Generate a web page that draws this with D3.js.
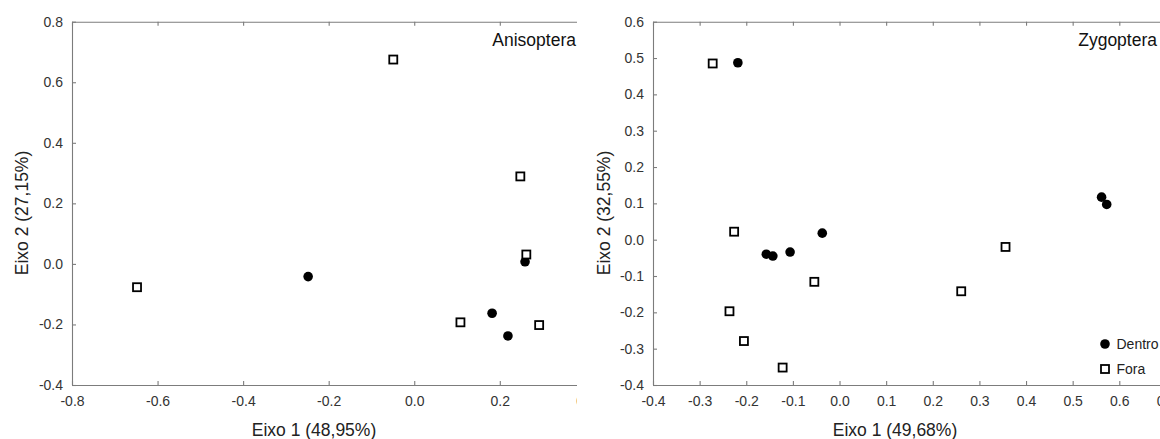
<!DOCTYPE html>
<html>
<head>
<meta charset="utf-8">
<script src="https://cdn.jsdelivr.net/npm/d3@7"></script>
<style>
  html, body { margin: 0; padding: 0; background: #fff; }
  svg { display: block; }
  text { font-family: "Liberation Sans", Arial, sans-serif; }
</style>
</head>
<body>
<svg id="chart" width="1160" height="439"></svg>
<script>
// ---------- data ----------
const anisXTicks = [-0.8, -0.6, -0.4, -0.2, 0.0, 0.2, 0.4];
const anisYTicks = [-0.4, -0.2, 0.0, 0.2, 0.4, 0.6, 0.8];
const anisDentroX = [-0.248, 0.259, 0.182, 0.219];
const anisDentroY = [-0.042, 0.007, -0.163, -0.238];
const anisForaX = [-0.049, 0.248, -0.648, 0.262, 0.108, 0.292];
const anisForaY = [0.675, 0.289, -0.077, 0.031, -0.193, -0.202];

const zygXTicks = [-0.4, -0.3, -0.2, -0.1, 0.0, 0.1, 0.2, 0.3, 0.4, 0.5, 0.6, 0.7];
const zygYTicks = [-0.4, -0.3, -0.2, -0.1, 0.0, 0.1, 0.2, 0.3, 0.4, 0.5, 0.6];
const zygDentroX = [-0.218, 0.562, 0.573, -0.037, -0.157, -0.143, -0.106];
const zygDentroY = [0.487, 0.117, 0.097, 0.018, -0.040, -0.045, -0.034];
const zygForaX = [-0.272, -0.226, -0.054, 0.261, 0.356, -0.236, -0.205, -0.122];
const zygForaY = [0.485, 0.022, -0.116, -0.142, -0.020, -0.197, -0.279, -0.352];

const legendLabels = ["Dentro", "Fora"];

// ---------- drawing ----------
const svg = d3.select("#chart");
const fmt = v => v.toFixed(1);
const lineColor = "#7c7c7c";
const textColor = "#333";

function panel(cfg) {
  const clipId = "clip-" + cfg.name;
  svg.append("clipPath").attr("id", clipId)
    .append("rect").attr("x", cfg.clipX0).attr("y", 0)
    .attr("width", cfg.clipX1 - cfg.clipX0).attr("height", 439);

  const g = svg.append("g").attr("clip-path", `url(#${clipId})`);

  const x = d3.scaleLinear().domain(cfg.xDomain).range(cfg.xRange);
  const y = d3.scaleLinear().domain(cfg.yDomain).range([385, 21.7]);

  const styleAxis = sel => {
    sel.select(".domain").attr("stroke", lineColor).attr("stroke-width", 1.1);
    sel.selectAll(".tick line").attr("stroke", lineColor).attr("stroke-width", 1.1);
    sel.selectAll(".tick text").attr("fill", textColor)
      .style("font-size", "14px").attr("font-family", "Liberation Sans, Arial, sans-serif");
  };

  // bottom axis
  g.append("g").attr("transform", "translate(0,385)")
    .call(d3.axisBottom(x).tickValues(cfg.xTicks).tickFormat(fmt)
      .tickSizeInner(-4).tickSizeOuter(0).tickPadding(11.5))
    .call(styleAxis);
  // top axis (no labels)
  g.append("g").attr("transform", "translate(0,21.7)")
    .call(d3.axisTop(x).tickValues(cfg.xTicks).tickFormat("")
      .tickSizeInner(-4).tickSizeOuter(0))
    .call(styleAxis);
  // left axis
  g.append("g").attr("transform", `translate(${cfg.xRange[0]},0)`)
    .call(d3.axisLeft(y).tickValues(cfg.yTicks).tickFormat(fmt)
      .tickSizeInner(-4).tickSizeOuter(0).tickPadding(9))
    .call(styleAxis);

  // points: circles (Dentro) then squares (Fora)
  const dentro = cfg.dentroX.map((v, i) => [v, cfg.dentroY[i]]);
  const fora = cfg.foraX.map((v, i) => [v, cfg.foraY[i]]);

  g.append("g").selectAll("circle").data(dentro).join("circle")
    .attr("cx", d => x(d[0])).attr("cy", d => y(d[1]))
    .attr("r", 4.8).attr("fill", "#000");

  const s = 8;
  g.append("g").selectAll("rect").data(fora).join("rect")
    .attr("x", d => x(d[0]) - s / 2).attr("y", d => y(d[1]) - s / 2)
    .attr("width", s).attr("height", s)
    .attr("fill", "#fff").attr("stroke", "#000").attr("stroke-width", 1.8);

  // panel title
  g.append("text").attr("x", cfg.titleX).attr("y", 46)
    .attr("text-anchor", "end").attr("fill", "#111")
    .style("font-size", "17.5px").text(cfg.title);

  // axis titles
  svg.append("text").attr("x", cfg.xTitleX).attr("y", 436)
    .attr("text-anchor", "middle").attr("fill", "#222")
    .style("font-size", "17.5px").text(cfg.xTitle);
  svg.append("text")
    .attr("transform", `translate(${cfg.yTitleX},213) rotate(-90)`)
    .attr("text-anchor", "middle").attr("fill", "#222")
    .style("font-size", "17.5px").text(cfg.yTitle);

  return { g, x, y };
}

panel({
  name: "anis",
  clipX0: 0, clipX1: 577,
  xDomain: [-0.8, 0.4], xRange: [72, 72 + 1.2 * 427.8],
  yDomain: [-0.4, 0.8],
  xTicks: anisXTicks, yTicks: anisYTicks,
  dentroX: anisDentroX, dentroY: anisDentroY,
  foraX: anisForaX, foraY: anisForaY,
  title: "Anisoptera", titleX: 576,
  xTitle: "Eixo 1 (48,95%)", xTitleX: 314,
  yTitle: "Eixo 2 (27,15%)", yTitleX: 28
});

const zyg = panel({
  name: "zyg",
  clipX0: 580, clipX1: 1160,
  xDomain: [-0.4, 0.7], xRange: [653, 653 + 11 * 46.63],
  yDomain: [-0.4, 0.6],
  xTicks: zygXTicks, yTicks: zygYTicks,
  dentroX: zygDentroX, dentroY: zygDentroY,
  foraX: zygForaX, foraY: zygForaY,
  title: "Zygoptera", titleX: 1157,
  xTitle: "Eixo 1 (49,68%)", xTitleX: 895,
  yTitle: "Eixo 2 (32,55%)", yTitleX: 610
});

// legend (inside right panel, bottom right)
const lg = zyg.g.append("g");
lg.append("circle").attr("cx", 1105).attr("cy", 344).attr("r", 4.8).attr("fill", "#000");
lg.append("rect").attr("x", 1105 - 4).attr("y", 369 - 4).attr("width", 8).attr("height", 8)
  .attr("fill", "#fff").attr("stroke", "#000").attr("stroke-width", 1.8);
lg.selectAll("text").data(legendLabels).join("text")
  .attr("x", 1116.5).attr("y", (d, i) => 349 + i * 25)
  .attr("fill", "#222").style("font-size", "14px").text(d => d);
</script>
</body>
</html>
